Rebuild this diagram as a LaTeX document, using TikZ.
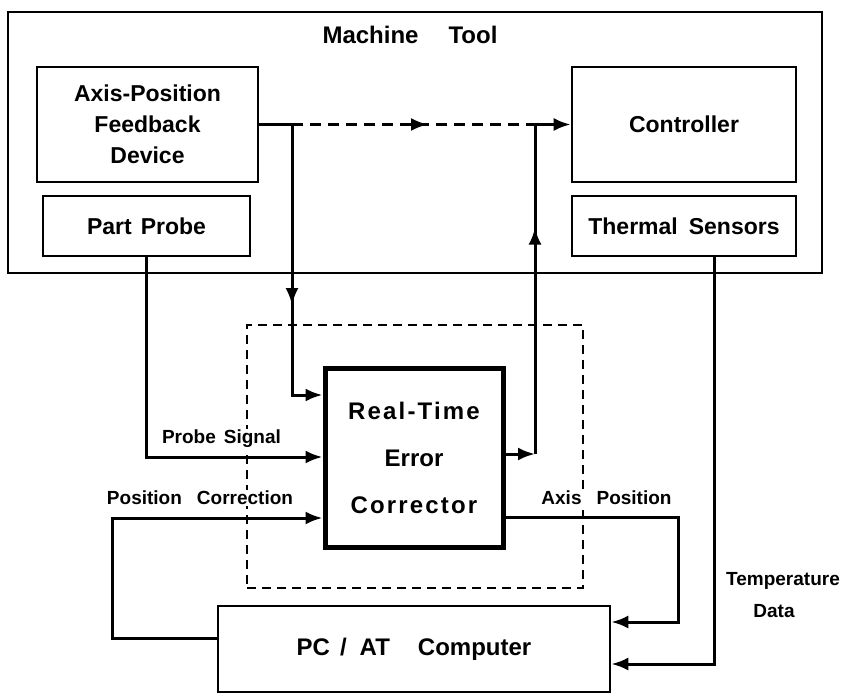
\documentclass[tikz,border=0pt]{standalone}
\usepackage{fontspec}
\setmainfont{Liberation Sans}
\newfontfamily\spacedfont[LetterSpace=9]{Liberation Sans}
\usetikzlibrary{arrows.meta,decorations.markings}
\tikzset{
  box/.style={draw, line width=2.6pt, rectangle, inner sep=0pt, align=center,
    font=\fontsize{23}{31}\selectfont\bfseries},
  conn/.style={line width=3pt},
  tip/.style={-{Latex[length=17pt,width=13pt]}},
  lbl/.style={inner sep=1pt, fill=white, font=\fontsize{19}{23}\selectfont\bfseries},
  midarrow/.style={postaction={decorate},
    decoration={markings, mark=at position #1 with {\arrow{Latex[length=17pt,width=13pt]}}}},
}
\begin{document}
\begin{tikzpicture}[x=1pt,y=-1pt]
\useasboundingbox (0,0) rectangle (852,695);
\fill[white] (0,0) rectangle (852,695);

% boxes
\node[box, minimum width=814pt, minimum height=261pt] (mt) at (415,142.5) {};
\node[inner sep=0pt, font=\fontsize{24}{28}\selectfont\bfseries] (mtl) at (410,35) {Machine\hspace{30pt}Tool};
\node[box, minimum width=221pt, minimum height=115pt] (axis) at (147.5,124.5) {Axis-Position\\Feedback\\Device};
\node[box, minimum width=207pt, minimum height=60pt] (probe) at (146.5,226) {Part\hspace{9pt}Probe};
\node[box, minimum width=224pt, minimum height=115pt] (ctrl) at (684,124.5) {Controller};
\node[box, minimum width=224pt, minimum height=60pt] (therm) at (684,226) {Thermal\hspace{11pt}Sensors};
\node[draw, line width=2.6pt, dash pattern=on 9pt off 6pt, minimum width=336pt, minimum height=263pt, inner sep=0pt] (dbox) at (415,456.5) {};
\node[draw, line width=5pt, minimum width=178pt, minimum height=179pt, inner sep=0pt, align=center,
  font=\fontsize{24}{47}\selectfont\bfseries] (rt) at (414,457.5)
  {{\spacedfont\bfseries Real-Time}\\Error\\{\spacedfont\bfseries Corrector}};
\node[box, minimum width=392pt, minimum height=86pt, font=\fontsize{24}{28}\selectfont\bfseries] (pc) at (414,649)
  {PC\hspace{10pt}/\hspace{13pt}AT\hspace{28pt}Computer};

% coordinates
\coordinate (j1) at (292,124.5);
\coordinate (j2) at (535,124.5);
\coordinate (j3) at (535,454);
\coordinate (ax) at (292,395);
\coordinate (pry) at (146.5,457);
\coordinate (pcy) at (112,638);
\coordinate (pcu) at (112,518);
\coordinate (apy) at (678,517);
\coordinate (apd) at (678,622);
\coordinate (tx) at (714,664);

% connectors
\draw[conn] (axis.east) -- (j1);
\draw[conn, dash pattern=on 11pt off 7pt, midarrow=0.56] (j1) -- (j2);
\draw[conn, tip, midarrow=0.6] (j1) -- (ax) -- (rt.west |- ax);
\draw[conn, tip] (probe.south) -- (pry) -- (rt.west |- pry);
\draw[conn, tip] (rt.east |- j3) -- (j3);
\draw[conn, tip, midarrow=0.62] (j3) -- (j2) -- (ctrl.west);
\draw[conn, tip] (pc.west |- pcy) -- (pcy) -- (pcu) -- (rt.west |- pcu);
\draw[conn, tip] (rt.east |- apy) -- (apy) -- (apd) -- (pc.east |- apd);
\draw[conn, tip] (therm.south -| tx) -- (tx) -- (pc.east |- tx);

% labels
\node[lbl] (lps) at (221.5,439) {Probe\hspace{8pt}Signal};
\node[lbl] (lpc) at (200,498) {Position\hspace{15pt}Correction};
\node[lbl] (lap) at (606.5,498) {Axis\hspace{15pt}Position};
\node[lbl] (ltd) at (783,581) {Temperature};
\node[lbl] (ldata) at (774,611) {Data};
\end{tikzpicture}
\end{document}
